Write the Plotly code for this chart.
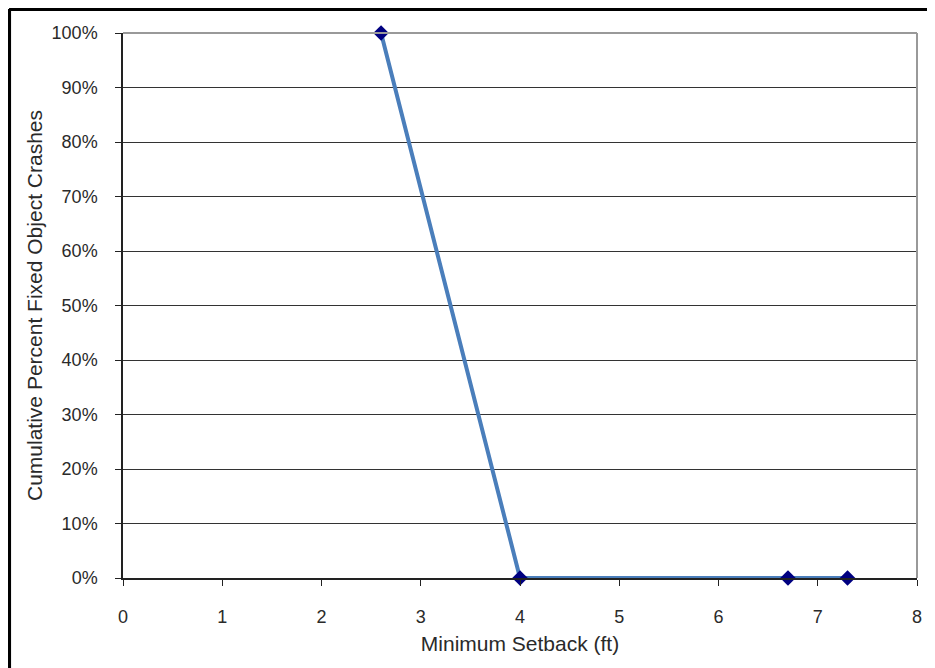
import plotly.graph_objects as go

setback_ft = [2.6, 4.0, 6.7, 7.3]
cum_pct = [1.00, 0.00, 0.00, 0.00]
x_ticks = [0, 1, 2, 3, 4, 5, 6, 7, 8]
y_ticks = [0, 0.1, 0.2, 0.3, 0.4, 0.5, 0.6, 0.7, 0.8, 0.9, 1.0]

font_fam = "Liberation Sans, Arial, sans-serif"

fig = go.Figure()
fig.add_trace(go.Scatter(
    x=setback_ft, y=cum_pct, mode="lines+markers",
    line=dict(color="#4a7ebb", width=4),
    marker=dict(symbol="diamond", size=12, color="#000080"),
    showlegend=False, cliponaxis=False,
))

# page body has an 8px margin, so shift everything up/left by 8px
fig.update_layout(
    width=935, height=668,
    margin=dict(l=115, r=26, t=25, b=98),
    paper_bgcolor="white", plot_bgcolor="white",
    font=dict(family=font_fam, size=18, color="#2a2a2a"),
    xaxis=dict(
        range=[0, 8], tickvals=x_ticks, showgrid=False, zeroline=False,
        showline=True, linecolor="#222", linewidth=1.5, mirror=False,
        ticks="outside", ticklen=6, tickcolor="#222", ticklabelstandoff=16,
        title=dict(text="Minimum Setback (ft)", standoff=10, font=dict(size=21)),
    ),
    yaxis=dict(
        range=[0, 1.0], tickvals=y_ticks, tickformat=".0%",
        showgrid=True, gridcolor="#333", gridwidth=1, zeroline=False,
        showline=True, linecolor="#222", linewidth=1.5,
        ticks="outside", ticklen=6, tickcolor="#222", ticklabelstandoff=14,
        title=dict(text="Cumulative Percent Fixed Object Crashes", standoff=3, font=dict(size=21)),
    ),
    shapes=[
        dict(type="line", xref="paper", yref="paper", x0=0, x1=1, y0=1, y1=1,
             line=dict(color="#999", width=2)),
        dict(type="line", xref="paper", yref="paper", x0=1, x1=1, y0=0, y1=1,
             line=dict(color="#999", width=2)),
        # outer frame (left and top only visible)
        dict(type="line", xref="x domain", yref="y domain", x0=-0.1435, x1=-0.1435, y0=-0.3, y1=1.044,
             line=dict(color="black", width=4)),
        dict(type="line", xref="x domain", yref="y domain", x0=-0.1435, x1=1.1, y0=1.044, y1=1.044,
             line=dict(color="black", width=4)),
    ],
)

fig.write_html("out.html")
